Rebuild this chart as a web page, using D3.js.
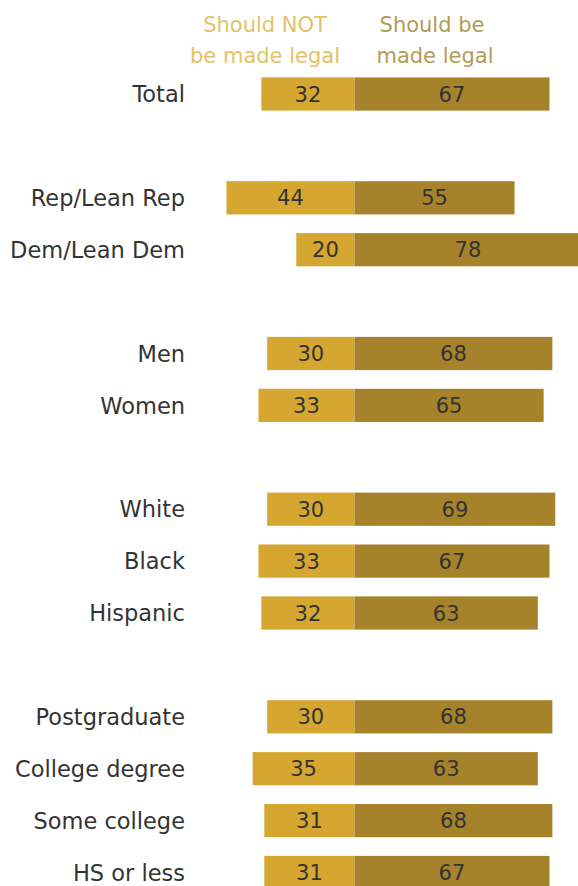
<!DOCTYPE html>
<html>
<head>
<meta charset="utf-8">
<script src="https://cdn.jsdelivr.net/npm/d3@7"></script>
<style>
  body { margin: 0; background: #fff; }
  text { font-family: "DejaVu Sans", "Liberation Sans", Arial, sans-serif; }
</style>
</head>
<body>
<svg id="chart" width="578" height="886"></svg>
<script>
// rows, "" marks a blank spacer row between groups
const categories = ["Total", "", "Rep/Lean Rep", "Dem/Lean Dem", "", "Men", "Women", "",
  "White", "Black", "Hispanic", "", "Postgraduate", "College degree", "Some college", "HS or less"];
const notLegal = [32, null, 44, 20, null, 30, 33, null, 30, 33, 32, null, 30, 35, 31, 31];
const legal = [67, null, 55, 78, null, 68, 65, null, 69, 67, 63, null, 68, 63, 68, 67];
const headers = [["Should NOT", "be made legal"], ["Should be", "made legal"]];

const LIGHT = "#d5a630";
const DARK = "#a6832b";
const MID = 354.5;
const PX = 2.91;
const FONT = 21;

const svg = d3.select("#chart");

const y = d3.scaleBand()
  .domain(d3.range(categories.length))
  .range([94 - 25.95, 94 - 25.95 + 51.9 * categories.length])
  .paddingInner(0.36)
  .paddingOuter(0.18);

const xLeft = d3.scaleLinear().domain([0, 100]).range([MID, MID - 100 * PX]);
const xRight = d3.scaleLinear().domain([0, 100]).range([MID, MID + 100 * PX]);

const rows = categories.map((c, i) => ({ cat: c, i, no: notLegal[i], yes: legal[i] }))
  .filter(d => d.cat !== "");

// headers
const hdr = svg.append("g").attr("class", "headers");
hdr.selectAll("text.h0")
  .data(headers[0])
  .enter().append("text")
    .attr("x", 265)
    .attr("y", (d, k) => 32 + k * 31)
    .attr("text-anchor", "middle")
    .attr("font-size", FONT)
    .attr("fill", "#e2c266")
    .text(d => d);
hdr.selectAll("text.h1")
  .data(headers[1])
  .enter().append("text")
    .attr("x", (d, k) => k === 0 ? 432 : 435)
    .attr("y", (d, k) => 32 + k * 31)
    .attr("text-anchor", "middle")
    .attr("font-size", FONT)
    .attr("fill", "#b39b55")
    .text(d => d);

const g = svg.append("g").attr("class", "rows");
const row = g.selectAll(".row").data(rows).enter()
  .append("g").attr("class", "row");

row.append("rect")
  .attr("x", d => xLeft(d.no))
  .attr("y", d => y(d.i))
  .attr("width", d => xLeft(0) - xLeft(d.no))
  .attr("height", y.bandwidth())
  .attr("fill", LIGHT);

row.append("rect")
  .attr("x", MID)
  .attr("y", d => y(d.i))
  .attr("width", d => xRight(d.yes) - xRight(0))
  .attr("height", y.bandwidth())
  .attr("fill", DARK);

row.append("text")
  .attr("x", 185)
  .attr("y", d => y(d.i) + y.bandwidth() / 2)
  .attr("dy", "0.36em")
  .attr("text-anchor", "end")
  .attr("font-size", 22.5)
  .attr("fill", "#333")
  .text(d => d.cat);

row.append("text")
  .attr("x", d => (xLeft(d.no) + MID) / 2)
  .attr("y", d => y(d.i) + y.bandwidth() / 2)
  .attr("dy", "0.36em")
  .attr("text-anchor", "middle")
  .attr("font-size", FONT)
  .attr("fill", "#333")
  .text(d => d.no);

row.append("text")
  .attr("x", d => (xRight(d.yes) + MID) / 2)
  .attr("y", d => y(d.i) + y.bandwidth() / 2)
  .attr("dy", "0.36em")
  .attr("text-anchor", "middle")
  .attr("font-size", FONT)
  .attr("fill", "#333")
  .text(d => d.yes);
</script>
</body>
</html>
